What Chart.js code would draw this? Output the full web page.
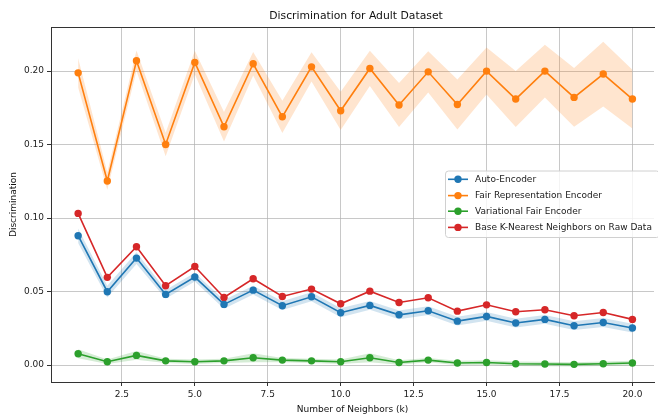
<!DOCTYPE html>
<html><head><meta charset="utf-8">
<script src="https://cdn.jsdelivr.net/npm/chart.js@4"></script>
<style>html,body{margin:0;padding:0;background:#fff}#wrap{width:658px;height:415px;position:relative}</style>
</head><body><div id="wrap"><canvas id="c" width="658" height="415"></canvas></div>
<script>
const neighbors = [1,2,3,4,5,6,7,8,9,10,11,12,13,14,15,16,17,18,19,20];
const autoEncoder = [0.0880,0.0499,0.0728,0.0481,0.0599,0.0413,0.0510,0.0404,0.0465,0.0356,0.0406,0.0342,0.0370,0.0299,0.0331,0.0286,0.0311,0.0268,0.0290,0.0252];
const autoEncoderErr = [0.005,0.004,0.004,0.003,0.003,0.003,0.003,0.003,0.003,0.003,0.003,0.003,0.003,0.003,0.003,0.003,0.003,0.003,0.003,0.003];
const fairRepEncoder = [0.1988,0.1252,0.2070,0.1501,0.2059,0.1621,0.2050,0.1689,0.2029,0.1730,0.2018,0.1769,0.1995,0.1773,0.2000,0.1810,0.2000,0.1821,0.1980,0.1810];
const fairRepEncoderErr = [0.010,0.006,0.007,0.008,0.008,0.010,0.008,0.011,0.010,0.013,0.012,0.015,0.014,0.017,0.016,0.019,0.018,0.020,0.022,0.020];
const variationalFair = [0.0077,0.0023,0.0066,0.0029,0.0023,0.0029,0.0050,0.0034,0.0029,0.0023,0.0050,0.0018,0.0034,0.0014,0.0018,0.0009,0.0007,0.0005,0.0009,0.0014];
const variationalFairErr = [0.003,0.0015,0.003,0.0015,0.0015,0.0015,0.003,0.0015,0.0015,0.0015,0.003,0.0015,0.0015,0.0015,0.0015,0.0015,0.0015,0.0015,0.0015,0.0015];
const baseKnn = [0.1032,0.0597,0.0805,0.0540,0.0671,0.0460,0.0587,0.0467,0.0517,0.0417,0.0503,0.0426,0.0458,0.0367,0.0410,0.0363,0.0376,0.0336,0.0358,0.0311];
const seriesNames = ['Auto-Encoder','Fair Representation Encoder','Variational Fair Encoder','Base K-Nearest Neighbors on Raw Data'];
const xTicks = [2.5,5,7.5,10,12.5,15,17.5,20];
const yTicks = [0,0.05,0.10,0.15,0.20];
const titleText = 'Discrimination for Adult Dataset';
const xLabel = 'Number of Neighbors (k)';
const yLabel = 'Discrimination';

const colors = ['#1f77b4','#ff7f0e','#2ca02c','#d62728'];
const bandColors = ['rgba(31,119,180,0.2)','rgba(255,127,14,0.2)','rgba(44,160,44,0.2)'];
const FONT = 'DejaVu Sans';

const toXY = arr => arr.map((v,i)=>({x:neighbors[i], y:v}));
const series = [autoEncoder, fairRepEncoder, variationalFair, baseKnn];
const errs = [autoEncoderErr, fairRepEncoderErr, variationalFairErr, null];

const datasets = [];
series.forEach((s,i)=>{
  if(!errs[i]) return;
  datasets.push({label:'_up'+i, data:toXY(s.map((v,j)=>v+errs[i][j])), borderWidth:0, borderColor:'transparent', pointRadius:0, fill:false, order:10, tension:0});
  datasets.push({label:'_lo'+i, data:toXY(s.map((v,j)=>v-errs[i][j])), borderWidth:0, borderColor:'transparent', pointRadius:0, fill:'-1', backgroundColor:bandColors[i], order:10, tension:0});
});
series.forEach((s,i)=>{
  datasets.push({label:seriesNames[i], data:toXY(s), borderColor:colors[i], backgroundColor:colors[i], borderWidth:1.6, pointRadius:3.7, pointBorderWidth:0, pointBackgroundColor:colors[i], fill:false, order:i===1?1:0, tension:0});
});

const decor = {
  id:'decor',
  afterDatasetsDraw(chart){
    const {ctx, chartArea:a} = chart;
    ctx.save();
    ctx.strokeStyle = '#333';
    ctx.lineWidth = 1;
    ctx.beginPath();
    ctx.moveTo(a.left, a.top+0.5); ctx.lineTo(a.right+1, a.top+0.5);
    ctx.stroke();
    ctx.restore();
  },
  afterDraw(chart){
    const ctx = chart.ctx;
    ctx.save();
    // title, centred over the (uncropped) axes
    ctx.font = '10.8px "'+FONT+'"';
    ctx.fillStyle = '#111';
    ctx.textAlign = 'center';
    ctx.textBaseline = 'middle';
    ctx.fillText(titleText, 356, 16);
    // legend
    const bx=445.5, by=171, bw=214, bh=66.5, r=3;
    ctx.fillStyle='rgba(255,255,255,0.8)';
    ctx.strokeStyle='#d0d0d0';
    ctx.lineWidth=1;
    ctx.beginPath();
    ctx.roundRect(bx,by,bw,bh,r);
    ctx.fill(); ctx.stroke();
    const rowsY=[179.3,195.6,211.2,227.4];
    ctx.font = '9px "'+FONT+'"';
    ctx.textBaseline='middle';
    ctx.textAlign='left';
    seriesNames.forEach((n,i)=>{
      const y=rowsY[i];
      ctx.strokeStyle=colors[i]; ctx.lineWidth=1.6;
      ctx.beginPath(); ctx.moveTo(448,y); ctx.lineTo(468,y); ctx.stroke();
      ctx.fillStyle=colors[i];
      ctx.beginPath(); ctx.arc(458,y,3.7,0,Math.PI*2); ctx.fill();
      ctx.fillStyle='#1a1a1a';
      ctx.fillText(n,475,y+0.5);
    });
    ctx.restore();
  }
};

new Chart(document.getElementById('c'), {
  type:'line',
  data:{datasets},
  plugins:[decor],
  options:{
    responsive:false,
    animation:false,
    layout:{padding:{left:0,right:1,top:27,bottom:0}},
    plugins:{
      legend:{display:false},
      tooltip:{enabled:false},
      filler:{drawTime:'beforeDatasetsDraw'},
      title:{display:false}
    },
    scales:{
      x:{
        type:'linear', min:0.07, max:20.74,
        afterBuildTicks(s){ s.ticks = xTicks.map(v=>({value:v})); },
        afterFit(s){ s.height = 33; },
        ticks:{ color:'#222', font:{family:FONT,size:9}, padding:3, maxRotation:0, autoSkip:false, callback:v=>Number(v).toFixed(1) },
        grid:{ color:'rgba(176,176,176,0.7)', lineWidth:1, drawTicks:true, tickLength:4, tickColor:'#333' },
        border:{ display:true, color:'#333', width:1 },
        title:{ display:true, text:xLabel, color:'#111', font:{family:FONT,size:9}, padding:{top:1,bottom:0} }
      },
      y:{
        type:'linear', min:-0.0115, max:0.2300,
        afterBuildTicks(s){ s.ticks = yTicks.map(v=>({value:v})); },
        afterFit(s){ s.width = 51; },
        ticks:{ color:'#222', font:{family:FONT,size:9}, padding:3, autoSkip:false, callback:v=>Number(v).toFixed(2) },
        grid:{ color:'rgba(176,176,176,0.7)', lineWidth:1, drawTicks:true, tickLength:4, tickColor:'#333' },
        border:{ display:true, color:'#333', width:1 },
        title:{ display:true, text:yLabel, color:'#111', font:{family:FONT,size:9}, padding:{top:8.5,bottom:0} }
      }
    }
  }
});
</script>
</body></html>
